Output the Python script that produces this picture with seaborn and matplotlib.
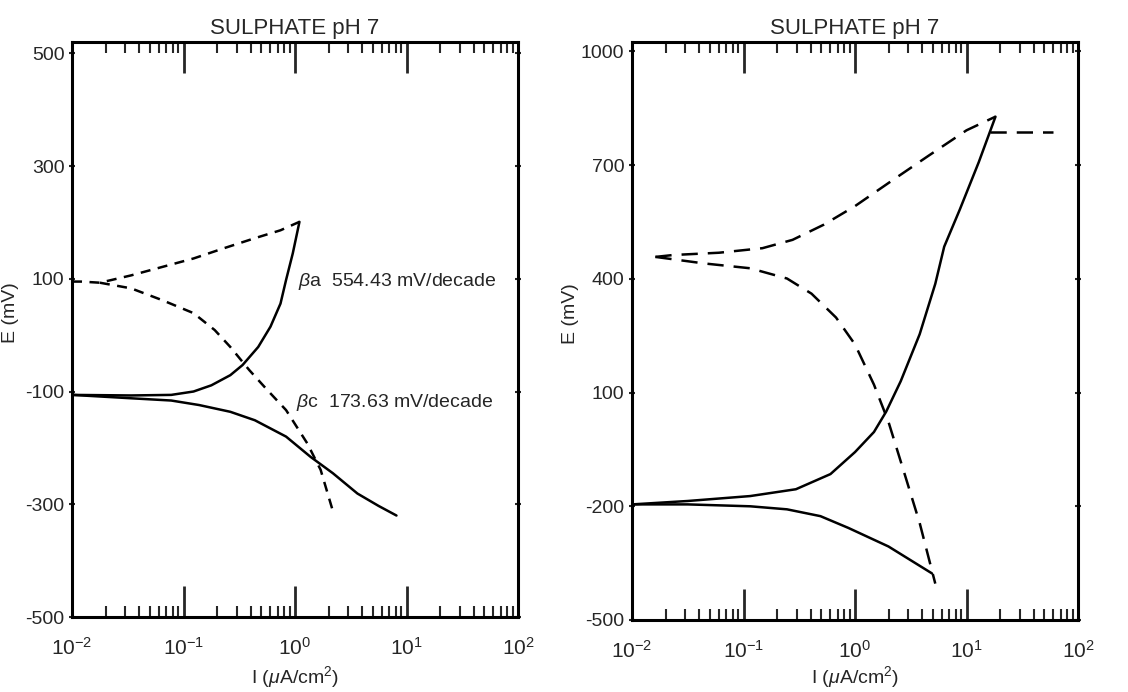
import numpy as np
import pandas as pd
import matplotlib
matplotlib.use("Agg")
import matplotlib.pyplot as plt
import seaborn as sns
from matplotlib.ticker import LogLocator, FixedLocator

# ---------------- data (log10 of I in uA/cm2, E in mV) ----------------
# Left panel
L_anodic_logI = [-2.0, -1.47, -1.11, -0.91, -0.75, -0.58, -0.47, -0.33, -0.22, -0.13, -0.08, -0.02, 0.04]
L_anodic_E = [-106, -107, -106, -100, -89, -71, -53, -21, 15, 56, 98, 145, 201]
L_cathodic_logI = [-2.0, -1.47, -1.11, -0.86, -0.58, -0.36, -0.08, 0.14, 0.34, 0.56, 0.75, 0.91]
L_cathodic_E = [-106, -112, -116, -124, -136, -151, -180, -216, -245, -281, -303, -320]
L_tafel_a_logI = [-2.0, -1.92, -1.75, -1.47, -1.19, -0.91, -0.64, -0.36, -0.13, 0.04]
L_tafel_a_E = [95, 95, 93, 106, 121, 136, 154, 172, 186, 201]
L_tafel_c_logI = [-1.75, -1.47, -1.19, -0.91, -0.72, -0.58, -0.41, -0.25, -0.08, 0.11, 0.23, 0.35]
L_tafel_c_E = [93, 83, 62, 39, 9, -21, -62, -97, -133, -192, -239, -319]

# Right panel
R_anodic_logI = [-2.0, -1.50, -0.94, -0.53, -0.22, 0.0, 0.17, 0.28, 0.41, 0.58, 0.72, 0.80, 0.94, 1.11, 1.26]
R_anodic_E = [-195, -186, -173, -155, -115, -57, -4, 50, 130, 254, 387, 485, 583, 708, 828]
R_cathodic_logI = [-2.0, -1.50, -0.94, -0.61, -0.31, -0.06, 0.30, 0.69]
R_cathodic_E = [-195, -195, -200, -208, -226, -257, -306, -377]
R_tafel_a_logI = [-1.79, -1.63, -1.22, -0.83, -0.56, -0.28, 0.0, 0.33, 0.66, 1.0, 1.26]
R_tafel_a_E = [458, 463, 469, 481, 503, 543, 592, 659, 725, 792, 828]
R_plateau_logI = [1.21, 1.78]
R_plateau_E = [788, 788]
R_tafel_c_logI = [-1.79, -1.36, -0.94, -0.61, -0.39, -0.17, 0.0, 0.17, 0.30, 0.44, 0.58, 0.72]
R_tafel_c_E = [458, 441, 428, 401, 361, 298, 227, 121, 23, -110, -244, -404]

title_text = "SULPHATE pH 7"
L_yticks = [-500, -300, -100, 100, 300, 500]
R_yticks = [-500, -200, 100, 400, 700, 1000]
beta_a_text = r"$\beta$a  554.43 mV/decade"
beta_c_text = r"$\beta$c  173.63 mV/decade"

# ---------------- style ----------------
sns.set_style("ticks")
plt.rcParams["font.family"] = ["Liberation Sans", "DejaVu Sans"]
plt.rcParams["mathtext.fontset"] = "custom"
plt.rcParams["mathtext.rm"] = "Liberation Sans"
plt.rcParams["mathtext.it"] = "Liberation Sans:italic"
plt.rcParams["axes.unicode_minus"] = False

fig = plt.figure(figsize=(11.28, 6.92), dpi=100)
W, H = 1128, 692
axL = fig.add_axes([72 / W, (H - 617) / H, (518 - 72) / W, (617 - 42) / H])
axR = fig.add_axes([632 / W, (H - 620) / H, (1078 - 632) / W, (620 - 42) / H])


def draw(ax, x, y, dashes=None):
    df = pd.DataFrame({"I": np.power(10.0, x), "E": y})
    sns.lineplot(data=df, x="I", y="E", ax=ax, color="black", lw=1.8,
                 estimator=None, sort=False,
                 linestyle=(0, dashes) if dashes else "-")


dL = (4, 3)
dR = (6.5, 4)
draw(axL, L_anodic_logI, L_anodic_E)
draw(axL, L_cathodic_logI, L_cathodic_E)
draw(axL, L_tafel_a_logI, L_tafel_a_E, dL)
draw(axL, L_tafel_c_logI, L_tafel_c_E, dL)

draw(axR, R_anodic_logI, R_anodic_E)
draw(axR, R_cathodic_logI, R_cathodic_E)
draw(axR, R_tafel_a_logI, R_tafel_a_E, dR)
draw(axR, R_plateau_logI, R_plateau_E, dR)
draw(axR, R_tafel_c_logI, R_tafel_c_E, dR)

for ax, ylim, yt, xly in [(axL, (-500, 520), L_yticks, -0.082),
                          (axR, (-500, 1025), R_yticks, -0.076)]:
    ax.set_xscale("log")
    ax.set_xlim(1e-2, 1e2)
    ax.set_ylim(*ylim)
    ax.yaxis.set_major_locator(FixedLocator(yt))
    ax.xaxis.set_major_locator(LogLocator(base=10, numticks=10))
    ax.xaxis.set_minor_locator(LogLocator(base=10, subs=np.arange(2, 10), numticks=20))
    ax.tick_params(axis="x", which="major", direction="in", length=22, width=2,
                   top=True, bottom=True, labelsize=15, pad=14)
    ax.tick_params(axis="x", which="minor", direction="in", length=8, width=1.5,
                   top=True, bottom=True)
    ax.tick_params(axis="y", which="major", direction="inout", length=5, width=1.5,
                   left=True, right=True, labelsize=14, pad=3)
    for s in ax.spines.values():
        s.set_linewidth(2.2)
        s.set_color("black")
    ax.set_title(title_text, fontsize=16, pad=6)
    ax.set_xlabel(r"I ($\mu$A/cm$^{2}$)", fontsize=14)
    ax.xaxis.set_label_coords(0.5, xly)
    ax.set_ylabel("E (mV)", fontsize=14)
    ax.yaxis.set_label_coords(-0.118, 0.53)

axL.text(10 ** 0.03, 96, beta_a_text, fontsize=14, va="center", ha="left")
axL.text(10 ** 0.01, -120, beta_c_text, fontsize=14, va="center", ha="left")

fig.savefig("out.png", dpi=100, facecolor="white")
